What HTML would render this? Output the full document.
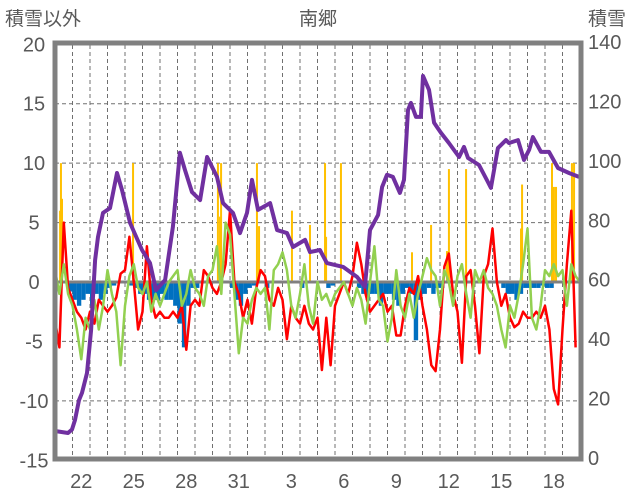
<!DOCTYPE html>
<html><head><meta charset="utf-8"><style>
body{margin:0;background:#fff;}
svg{display:block;font-family:"Liberation Sans","Noto Sans CJK JP",sans-serif;}
</style></head><body>
<svg id="chart" width="636" height="501">
<text x="5" y="25" font-size="19" fill="#595959">積雪以外</text>
<text x="318" y="25" font-size="19" fill="#595959" text-anchor="middle">南郷</text>
<text x="588" y="25" font-size="19" fill="#595959">積雪</text>
<g id="grid"></g><g id="bars"></g><g id="lines"></g><g id="ticks"></g>
<rect x="55" y="43" width="526" height="416" fill="none" stroke="#808080" stroke-width="5"/>
</svg>
<script>
const dayLabels=["22","25","28","31","3","6","9","12","15","18"];
const dayLabelIdx=[1,4,7,10,13,16,19,22,25,28];
const leftTicks=[20,15,10,5,0,-5,-10,-15];
const rightTicks=[140,120,100,80,60,40,20,0];
const snowTimes=[0,0.74,0.97,1.14,1.37,1.54,1.83,2.06,2.29,2.46,2.74,3.14,3.54,3.83,4.29,4.97,5.43,5.77,6.29,6.74,7.14,7.43,7.83,8.29,8.69,9.26,9.6,10.17,10.57,10.97,11.26,11.6,12.29,12.69,13.26,13.6,14.29,14.57,15.14,15.54,16.46,17.26,17.71,18.0,18.46,18.69,18.97,19.31,19.71,19.94,20.17,20.34,20.63,20.91,21.03,21.37,21.66,22.06,22.51,23.09,23.37,23.6,24.23,24.74,24.91,25.31,25.77,25.94,26.46,26.8,27.09,27.31,27.77,28.23,28.74,29.37,29.94];
const snowDepth=[9.1,8.4,9.6,12.8,19.5,21.9,28.6,43.1,66.6,74.4,82.5,84.1,95.9,90.2,79.1,70.0,65.6,56.5,59.9,77.8,102.7,96.9,89.5,86.8,101.3,94.6,85.8,82.5,75.7,82.5,93.6,83.5,85.8,76.7,75.7,71.0,73.4,69.3,70.0,65.6,64.3,60.9,57.6,76.7,81.8,91.2,95.3,94.6,89.2,93.6,117.1,119.5,114.8,114.8,128.6,123.9,112.8,109.4,106.0,101.3,104.7,101.0,98.6,92.9,90.9,104.3,107.0,106.0,107.0,100.3,103.7,108.0,103.0,103.0,97.6,95.9,94.6];
const redVals=[-3.2,-5.5,5,-0.5,-1.5,-2.5,-3,-4,-2.5,-3.5,-1.5,-2,-2.5,-2,-1.3,0.7,1,3.8,0,-4,-2.5,3,-1.5,-3,-2.5,-3,-3,-2.5,-3,-2,-5.7,-2,-1.5,-2,1,0.5,-0.5,-1,0,1.5,6,0,-1,-3,-1.5,-3.5,-0.5,1,0.5,-1.5,-2,-0.5,-1.5,-4.8,-2,-3,-3.5,-2,-3.5,-4,-3,-7.4,-3,-7,-2,-1,0,-1,0.5,3.3,1.5,-1,-2.5,-2,-1.5,-1,-2.5,-2,-4.5,-4.5,-2,-0.5,-1,0.5,-2,-4,-7,-7.5,-4,1.3,2.4,-1,-2.5,-6.8,0.5,1,-2,-6,0.5,1.5,4.5,0,-2,-1,-3,-3.8,-3.5,-2.5,-3,-3,-2.5,-3,-2,-4,-9,-10.3,-4,1.5,6,-5.5];
const greenVals=[1,-1,1.5,-1,-2,-4,-6.5,-3,-4,-1.5,-4,-2,1,-1,-2.5,-7,-2,0.5,1.5,-0.5,-1,0,-2.5,-1,-2,-1,0,0.5,1,-2,-1,1,-0.5,-1,-2,0.5,1,3,-1,5,4,-1,-6,-3,-3.5,-1.5,-0.5,-1,-0.5,-4,1,1.5,2.5,1,-2,-3,-1,1.5,-2,-3.5,0,-1.5,-1,-2,-1,-0.5,0,-1,-2,-0.5,-1.5,-3.5,0,3,-1.5,-2,-5,-3,1,-2,-3,-1,-3,-1,0.5,2,1,0.5,-2,1,0,-2,0.5,1.5,-1,-3,1,0,1,-0.5,-1,-2,-4,-5.5,-2,-3,-1,1.5,4.5,-3,-4,-2,1,0.5,1.5,0.5,1,-2,1.5,0.5,0];
const blueVals=[0,0,0,-0.8,-1.5,-2,-1.5,-1,-2,-1,-1.5,-1,-0.5,-0.3,0,0,0,-0.3,-0.5,-1,-1,-1.5,-1.5,-1.5,-1,-1.5,-1.5,-2,-3.5,-5.5,-2,-0.5,-0.5,0,0,0,0,0,0,0,-0.5,-1.5,-2,-1,-0.5,-0.3,0,0,-0.5,0,0,0,0,0,0,0,-0.5,0,0,0,0,0,-0.5,-0.3,0,0,0,0,0,-0.5,-1,-1.5,-1,-1,-2,-1,-1,-1.5,-2,-1,-0.5,-1,-4.9,-1.5,-1,-0.5,-1,-0.5,-0.5,0,0,0,0,0,0,0,0,0,0,0,0,0,-0.5,-1,-1,-1.5,-1,-0.5,-0.5,-0.5,-0.5,-0.3,-0.5,-0.5,0,0,0,0,0,0,0,0,0,0];
const precipTimes=[0.29,0.34,0.4,4.46,9.31,9.43,9.49,11.54,11.66,13.54,14.57,15.43,15.49,16.34,20.4,21.49,22.4,22.51,23.49,26.63,26.69,28.4,28.51,28.63,29.54,29.66];
const precipVals=[6,10,7,10,10,5.5,10,10,4.7,6,4.8,10,3.8,10,2.5,4.8,2.6,9.5,9.5,4.5,8.2,10,8,8,10,10];

const X0=55,DAYW=17.5,ZY=282,LU=416/35;
const xs=t=>X0+t*DAYW;
const yL=v=>ZY-v*LU;
const yR=v=>458-v*416/140;
const NS="http://www.w3.org/2000/svg";
function mk(tag,parent,attrs){const e=document.createElementNS(NS,tag);for(const k in attrs)e.setAttribute(k,attrs[k]);parent.appendChild(e);return e;}
const grid=document.getElementById('grid'),bars=document.getElementById('bars'),lines=document.getElementById('lines'),ticks=document.getElementById('ticks');
leftTicks.forEach(v=>{
  if(v!==0&&v!==20&&v!==-15){const l=mk('line',grid,{x1:55,x2:580,y1:yL(v),y2:yL(v),stroke:'#707070','stroke-width':1,'stroke-dasharray':'4,3'});
  
  }
  const t=mk('text',ticks,{x:34,y:yL(v)+7,'font-size':20,fill:'#595959','text-anchor':'middle'});t.textContent=v;
  
  
});
rightTicks.forEach(v=>{
  const t=mk('text',ticks,{x:588,y:yR(v)+7,'font-size':20,fill:'#595959'});t.textContent=v;
  
  
});
for(let d=1;d<30;d++){
  const l=mk('line',grid,{x1:xs(d),x2:xs(d),y1:45,y2:457,stroke:'#707070','stroke-width':1,'stroke-dasharray':'4,3'});
  
  
}
dayLabels.forEach((s,i)=>{
  const t=mk('text',ticks,{x:xs(dayLabelIdx[i]+0.5),y:488,'font-size':20,fill:'#595959','text-anchor':'middle'});t.textContent=s;
  
  
});
precipTimes.forEach((t,i)=>{
  const v=precipVals[i];
  const r=mk('rect',bars,{x:xs(t)-1,y:yL(v),width:2,height:yL(0)-yL(v),fill:'#FFC000'});
  
  
});
blueVals.forEach((v,i)=>{
  if(v>=0)return;
  const r=mk('rect',bars,{x:xs(i*0.25),y:yL(0),width:4.4,height:yL(v)-yL(0),fill:'#0070C0'});
  
  
});
const zl=mk('line',bars,{x1:55,x2:580,y1:yL(0),y2:yL(0),stroke:'#808080','stroke-width':3});


function series(vals,times,yf,color,w,name){
  const pts=vals.map((v,i)=>xs(times?times[i]:i*0.25).toFixed(1)+','+yf(v).toFixed(1)).join(' ');
  const p=mk('polyline',lines,{points:pts,fill:'none',stroke:color,'stroke-width':w,'stroke-linejoin':'round'});
  
  
}
series(redVals,null,yL,'#FF0000',2.5,'red-series-line');
series(greenVals,null,yL,'#92D050',2.5,'green-series-line');
series(snowDepth,snowTimes,yR,'#7030A0',4,'snow-depth-line');
</script>
</body></html>
